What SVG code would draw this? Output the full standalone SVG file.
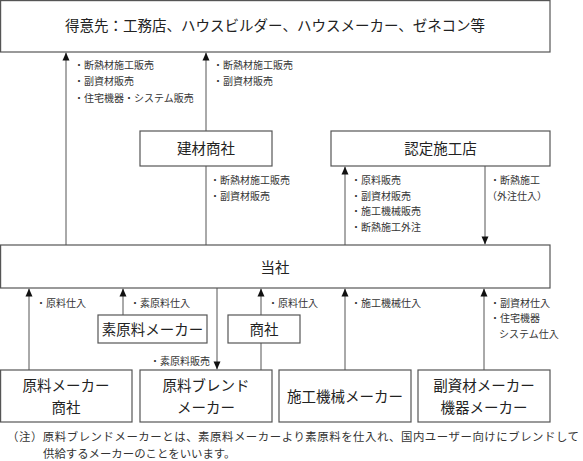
<svg xmlns="http://www.w3.org/2000/svg" width="583" height="461" viewBox="0 0 583 461">
<style>
.box{fill:#fff;stroke:#555;stroke-width:1.2}
.bt{font-family:"Noto Sans CJK JP","Noto Sans CJK SC",sans-serif;font-size:14.5px;fill:#222;text-anchor:middle}
.lb{font-family:"Noto Sans CJK JP","Noto Sans CJK SC",sans-serif;font-size:10px;fill:#333}
.nt{font-family:"Noto Sans CJK JP","Noto Sans CJK SC",sans-serif;font-size:11.4px;fill:#333}
.ln{fill:none;stroke:#555;stroke-width:1}
</style>
<defs>
<marker id="ah" markerUnits="userSpaceOnUse" markerWidth="8" markerHeight="8" refX="8" refY="4" orient="auto">
<path d="M0,0.5 L8,4 L0,7.5 z" fill="#111"/>
</marker>
</defs>
<g id="connectors">
<path class="ln" d="M66,245 V52.6" marker-end="url(#ah)"/>
<path class="ln" d="M206,131 V52.6" marker-end="url(#ah)"/>
<path class="ln" d="M206,245 V166"/>
<path class="ln" d="M345,245 V166.6" marker-end="url(#ah)"/>
<path class="ln" d="M485,166 V244.4" marker-end="url(#ah)"/>
<path class="ln" d="M29,370 V288.6" marker-end="url(#ah)"/>
<path class="ln" d="M123,315 V288.6" marker-end="url(#ah)"/>
<path class="ln" d="M217,288 V369.4" marker-end="url(#ah)"/>
<path class="ln" d="M261,315 V288.6" marker-end="url(#ah)"/>
<path class="ln" d="M261,343 V370"/>
<path class="ln" d="M345,370 V288.6" marker-end="url(#ah)"/>
<path class="ln" d="M484,370 V288.6" marker-end="url(#ah)"/>
</g>
<g id="labels">
<text class="lb" x="74" y="69">・断熱材施工販売</text>
<text class="lb" x="74" y="85">・副資材販売</text>
<text class="lb" x="74" y="102">・住宅機器・システム販売</text>
<text class="lb" x="213" y="69">・断熱材施工販売</text>
<text class="lb" x="213" y="85">・副資材販売</text>
<text class="lb" x="210" y="184">・断熱材施工販売</text>
<text class="lb" x="210" y="200">・副資材販売</text>
<text class="lb" x="351" y="184">・原料販売</text>
<text class="lb" x="351" y="200">・副資材販売</text>
<text class="lb" x="351" y="215">・施工機械販売</text>
<text class="lb" x="351" y="231">・断熱施工外注</text>
<text class="lb" x="490" y="184">・断熱施工</text>
<text class="lb" x="487" y="200">（外注仕入）</text>
<text class="lb" x="36" y="307">・原料仕入</text>
<text class="lb" x="130" y="307">・素原料仕入</text>
<text class="lb" x="268" y="307">・原料仕入</text>
<text class="lb" x="351" y="307">・施工機械仕入</text>
<text class="lb" x="490" y="307">・副資材仕入</text>
<text class="lb" x="490" y="322">・住宅機器</text>
<text class="lb" x="499" y="338">システム仕入</text>
<text class="lb" x="150" y="365">・素原料販売</text>
</g>
<g id="n-customers">
<rect class="box" x="0.6" y="0.6" width="549.4" height="51.4"/>
<text class="bt" x="275" y="31">得意先：工務店、ハウスビルダー、ハウスメーカー、ゼネコン等</text>
</g>
<g id="n-kenzai">
<rect class="box" x="140" y="131" width="132" height="35"/>
<text class="bt" x="206" y="153.5">建材商社</text>
</g>
<g id="n-nintei">
<rect class="box" x="331" y="131" width="219" height="35"/>
<text class="bt" x="440.5" y="153.5">認定施工店</text>
</g>
<g id="n-tousha">
<rect class="box" x="0.6" y="245" width="549.4" height="43"/>
<text class="bt" x="275" y="272.5">当社</text>
</g>
<g id="n-sogenryo">
<rect class="box" x="98" y="315" width="109" height="28"/>
<text class="bt" x="152.5" y="334.5">素原料メーカー</text>
</g>
<g id="n-shosha">
<rect class="box" x="228" y="315" width="72" height="28"/>
<text class="bt" x="264" y="334.5">商社</text>
</g>
<g id="n-genryo">
<rect class="box" x="0.6" y="370" width="131.4" height="52"/>
<text class="bt" x="66" y="390.5">原料メーカー</text>
<text class="bt" x="66" y="412.5">商社</text>
</g>
<g id="n-blend">
<rect class="box" x="140" y="370" width="132" height="52"/>
<text class="bt" x="206" y="390.5">原料ブレンド</text>
<text class="bt" x="206" y="412.5">メーカー</text>
</g>
<g id="n-sekou">
<rect class="box" x="279" y="370" width="132" height="52"/>
<text class="bt" x="345" y="401.5">施工機械メーカー</text>
</g>
<g id="n-fukushizai">
<rect class="box" x="418" y="370" width="132" height="52"/>
<text class="bt" x="484" y="390.5">副資材メーカー</text>
<text class="bt" x="484" y="412.5">機器メーカー</text>
</g>
<g id="note">
<text class="nt" x="7" y="441" textLength="572" lengthAdjust="spacing">（注）原料ブレンドメーカーとは、素原料メーカーより素原料を仕入れ、国内ユーザー向けにブレンドして</text>
<text class="nt" x="43" y="457.5">供給するメーカーのことをいいます。</text>
</g>
</svg>
